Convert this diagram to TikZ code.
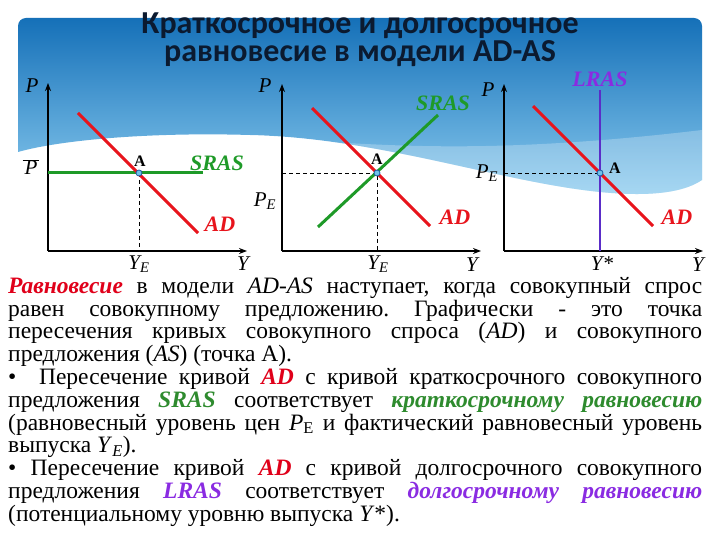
\documentclass[tikz,border=0pt]{standalone}
\usepackage{fontspec}
\setmainfont{Liberation Serif}
\newfontfamily\titlefont{Carlito}
\usetikzlibrary{arrows.meta}

\definecolor{adred}{HTML}{E8141C}
\definecolor{srasgreen}{HTML}{1E9A28}
\definecolor{lrasblue}{HTML}{5A2DC8}
\definecolor{lraslabel}{HTML}{8A2BE2}
\definecolor{txtred}{HTML}{E0001A}
\definecolor{txtgreen}{HTML}{2E8B2E}
\definecolor{txtpurple}{HTML}{8A2BE2}
\definecolor{bannertop}{HTML}{1570B8}
\definecolor{bannerbot}{HTML}{8ACBEF}
\definecolor{pointblue}{HTML}{1E5AA0}
\definecolor{pointfill}{HTML}{6EC3EA}
\definecolor{titleink}{HTML}{0B1A30}

\newcommand\jline[1]{\hbox to 694pt{#1}}
\newcommand\lline[1]{\hbox{#1}}
\newcommand\labPE{\textit{P}\textsubscript{\textit{E}}}
\newcommand\labYE{\textit{Y}\textsubscript{\textit{E}}}

\tikzset{
  axisline/.style={line width=1.8pt, -{Stealth[length=8pt,width=6pt]}},
  adpath/.style={line width=3pt, adred},
  sraspath/.style={line width=3pt, srasgreen},
  lraspath/.style={line width=2.5pt, lrasblue},
  dashline/.style={dash pattern=on 4pt off 3pt, line width=0.8pt},
  eqpoint/.style={circle, draw=pointblue, fill=pointfill, line width=0.8pt, inner sep=0pt, minimum size=6pt},
  axlabel/.style={inner sep=0.5pt, font=\fontsize{21}{21}\selectfont\itshape},
  curvelabel/.style={inner sep=1pt, font=\fontsize{22}{22}\selectfont\bfseries\itshape},
  ptlabel/.style={inner sep=1pt, font=\fontsize{16}{16}\selectfont\bfseries},
}

\begin{document}
\begin{tikzpicture}[x=1pt,y=-1pt]
  \useasboundingbox[fill=white] (0,0) rectangle (720,540);

  % banner
  \shade[top color=bannertop, bottom color=bannerbot]
    (18,152) [rounded corners=8pt] -- (18,18) -- (702,18) [sharp corners] -- (702,180)
    .. controls (680,195) and (640,196) .. (600,192)
    .. controls (500,182) and (380,138) .. (250,135)
    .. controls (150,132) and (60,140) .. (18,152) -- cycle;
  \fill[white, opacity=0.25] (230,137) .. controls (350,140) and (450,160) .. (702,130)
    -- (702,180) .. controls (680,195) and (640,196) .. (600,192)
    .. controls (500,182) and (380,138) .. (250,135) -- cycle;

  % title
  \node[titleink, align=center, font=\titlefont\bfseries\fontsize{32}{28}\selectfont] (title) at (360,40)
    {Краткосрочное и долгосрочное\\равновесие в модели AD-AS};

  % graph 1
  \coordinate (O1) at (48,251);
  \coordinate (P1) at (48,83);
  \coordinate (Y1) at (247,251);
  \coordinate (sr1s) at (48,173);
  \coordinate (sr1e) at (203,173);
  \coordinate (ad1s) at (78,113);
  \coordinate (ad1e) at (198,233);
  \coordinate (A1) at (139,173);
  \coordinate (YE1) at (139,251);
  \draw[dashline] (A1) -- (YE1);
  \draw[axisline] (O1) -- (P1);
  \draw[axisline] (O1) -- (Y1);
  \draw[sraspath] (sr1s) -- (sr1e);
  \draw[adpath] (ad1s) -- (ad1e);
  \node[eqpoint] (pA1) at (A1) {};
  \node[axlabel] (lP1) at (32,86) {P};
  \node[axlabel] (lPbar) at (31,167) {$\overline{\hbox{\kern2pt\textit{P}\kern2pt}}$};
  \node[ptlabel] (lA1) at (140,161) {A};
  \node[curvelabel, srasgreen] (lsras1) at (217,163) {SRAS};
  \node[curvelabel, adred] (lad1) at (220,224) {AD};
  \node[axlabel] (lYE1) at (139,264) {\labYE};
  \node[axlabel] (lY1) at (243,264) {Y};

  % graph 2
  \coordinate (O2) at (282,251);
  \coordinate (P2) at (282,84);
  \coordinate (Y2) at (481,251);
  \coordinate (ad2s) at (312,108);
  \coordinate (ad2e) at (430,226);
  \coordinate (sr2s) at (318,227);
  \coordinate (sr2e) at (438,115);
  \coordinate (A2) at (377,173);
  \coordinate (PE2) at (282,173);
  \coordinate (YE2) at (377,251);
  \draw[dashline] (PE2) -- (A2) -- (YE2);
  \draw[axisline] (O2) -- (P2);
  \draw[axisline] (O2) -- (Y2);
  \draw[adpath] (ad2s) -- (ad2e);
  \draw[sraspath] (sr2s) -- (sr2e);
  \node[eqpoint] (pA2) at (A2) {};
  \node[axlabel] (lP2) at (265,86) {P};
  \node[axlabel] (lPE2) at (265,201) {\labPE};
  \node[ptlabel] (lA2) at (377,159) {A};
  \node[curvelabel, srasgreen] (lsras2) at (443,103) {SRAS};
  \node[curvelabel, adred] (lad2) at (455,217) {AD};
  \node[axlabel] (lYE2) at (378,264) {\labYE};
  \node[axlabel] (lY2) at (472,265) {Y};

  % graph 3
  \coordinate (O3) at (504,251);
  \coordinate (P3) at (504,84);
  \coordinate (Y3) at (703,251);
  \coordinate (lr3s) at (600,90);
  \coordinate (lr3e) at (600,251);
  \coordinate (ad3s) at (533,106);
  \coordinate (ad3e) at (653,226);
  \coordinate (A3) at (600,173);
  \coordinate (PE3) at (504,173);
  \draw[dashline] (PE3) -- (A3);
  \draw[axisline] (O3) -- (P3);
  \draw[axisline] (O3) -- (Y3);
  \draw[adpath] (ad3s) -- (ad3e);
  \draw[lraspath] (lr3s) -- (lr3e);
  \node[eqpoint] (pA3) at (A3) {};
  \node[axlabel] (lP3) at (488,90) {P};
  \node[axlabel] (lPE3) at (487,173) {\labPE};
  \node[ptlabel] (lA3) at (615,168) {A};
  \node[curvelabel, lraslabel] (llras) at (600,79) {LRAS};
  \node[curvelabel, adred] (lad3) at (677,217) {AD};
  \node[axlabel] (lYs) at (602,264) {Y*};
  \node[axlabel] (lY3) at (698,265) {Y};

  % text
  \node[anchor=north west, inner sep=0pt] (body) at (8,277) {\vbox{\fontsize{23.5}{22.8}\selectfont\frenchspacing
    \jline{\textcolor{txtred}{\textbf{\textit{Равновесие}}} в модели \textit{AD-AS} наступает, когда совокупный спрос}
    \jline{равен совокупному предложению. Графически - это точка}
    \jline{пересечения кривых совокупного спроса (\textit{AD}) и совокупного}
    \lline{предложения (\textit{AS}) (точка А).}
    \jline{•\ \ Пересечение кривой \textcolor{txtred}{\textbf{\textit{AD}}} с кривой краткосрочного совокупного}
    \jline{предложения \textcolor{txtgreen}{\textbf{\textit{SRAS}}} соответствует \textcolor{txtgreen}{\textbf{\textit{краткосрочному равновесию}}}}
    \jline{(равновесный уровень цен \textit{P}\textsubscript{E} и фактический равновесный уровень}
    \lline{выпуска \textit{Y}\textsubscript{\textit{E}}).}
    \jline{• Пересечение кривой \textcolor{txtred}{\textbf{\textit{AD}}} с кривой долгосрочного совокупного}
    \jline{предложения \textcolor{txtpurple}{\textbf{\textit{LRAS}}} соответствует \textcolor{txtpurple}{\textbf{\textit{долгосрочному равновесию}}}}
    \lline{(потенциальному уровню выпуска \textit{Y}*).}
  }};
\end{tikzpicture}
\end{document}
